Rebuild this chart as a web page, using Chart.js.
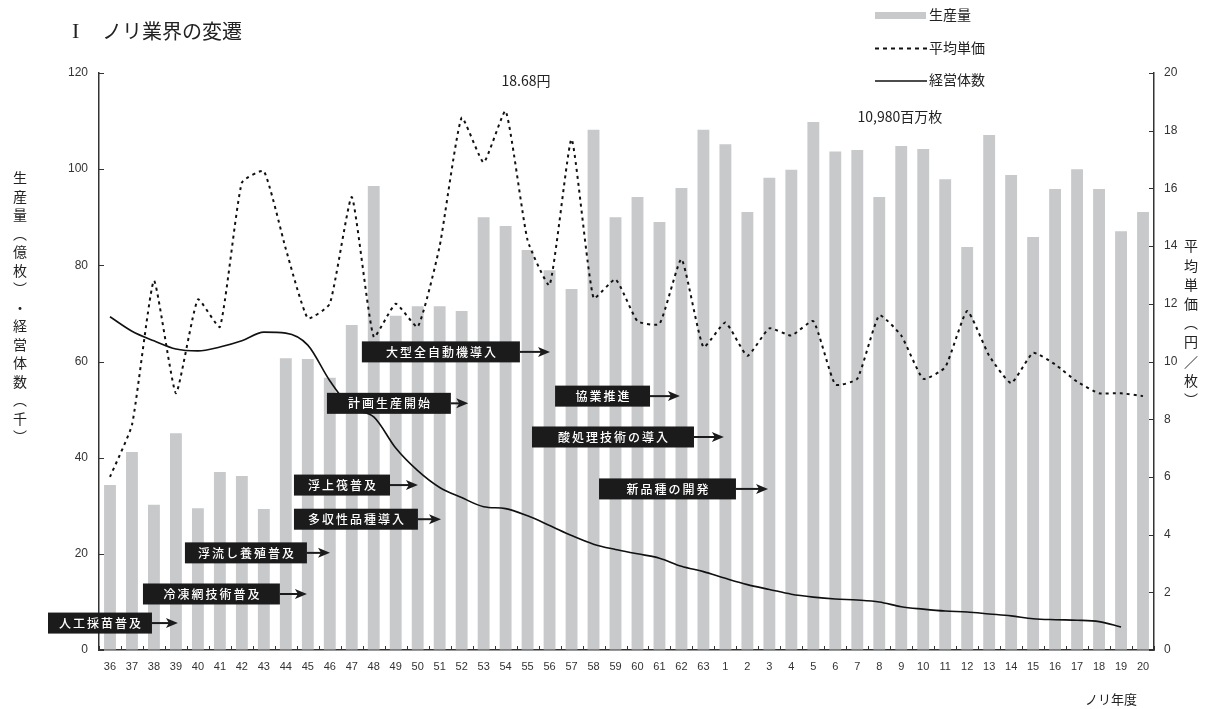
<!DOCTYPE html>
<html lang="ja">
<head>
<meta charset="utf-8">
<title>ノリ業界の変遷</title>
<script src="https://cdn.jsdelivr.net/npm/chart.js@4.4.1/dist/chart.umd.min.js"></script>
<style>
  html, body { margin: 0; padding: 0; background: #fff; }
  #wrap { width: 1208px; height: 709px; position: relative; }
</style>
</head>
<body>
<div id="wrap"><canvas id="c" width="1208" height="709"></canvas></div>
<script>
// ノリ年度（昭和36〜63年、平成1〜20年）
const years = ['36','37','38','39','40','41','42','43','44','45','46','47','48','49','50','51','52','53','54','55','56','57','58','59','60','61','62','63',
               '1','2','3','4','5','6','7','8','9','10','11','12','13','14','15','16','17','18','19','20'];

// 生産量（億枚）
const production = [34.3, 41.2, 30.2, 45.1, 29.5, 37.0, 36.2, 29.3, 60.7, 60.5, 56.6, 67.6, 96.5, 69.5, 71.5, 71.5, 70.5, 90.0, 88.2, 83.2, 79.0, 75.1, 108.2, 90.0, 94.2, 89.0, 96.1, 108.2,
                    105.2, 91.1, 98.2, 99.9, 109.8, 103.7, 104.0, 94.2, 104.8, 104.2, 97.9, 83.8, 107.1, 98.8, 85.9, 95.9, 100.0, 95.9, 87.1, 91.1];

// 平均単価（円／枚）
const avgPrice = [6.0, 7.8, 12.8, 8.9, 12.15, 11.2, 16.2, 16.6, 13.9, 11.5, 12.0, 15.7, 10.85, 12.0, 11.2, 14.0, 18.45, 16.9, 18.68, 14.2, 12.65, 17.7, 12.2, 12.85, 11.4, 11.3, 13.55, 10.5,
                  11.35, 10.2, 11.15, 10.9, 11.4, 9.2, 9.4, 11.6, 10.9, 9.4, 9.8, 11.75, 10.2, 9.25, 10.3, 9.9, 9.3, 8.9, 8.9, 8.8];

// 経営体数（千）
const operators = [69.3, 66.3, 64.3, 62.6, 62.2, 63.0, 64.3, 66.1, 65.9, 63.4, 56.0, 50.3, 48.5, 42.0, 37.3, 33.8, 31.7, 29.8, 29.4, 27.9, 25.9, 23.8, 22.0, 20.9, 20.0, 19.1, 17.4, 16.3,
                   14.9, 13.6, 12.6, 11.6, 11.0, 10.6, 10.4, 10.0, 9.0, 8.5, 8.1, 7.9, 7.5, 7.1, 6.5, 6.3, 6.2, 5.9, 4.8, null];

// 軸目盛
const leftTicks = [0, 20, 40, 60, 80, 100, 120];
const rightTicks = [0, 2, 4, 6, 8, 10, 12, 14, 16, 18, 20];

// 主な出来事（x は年度の位置、y は左軸の値）
const milestones = [
  { text: '人工採苗普及',     from: -2.82, to: 1.91,  tip: 3.09,  y: 5.6 },
  { text: '冷凍網技術普及',   from: 1.50,  to: 7.73,  tip: 8.96,  y: 11.65 },
  { text: '浮流し養殖普及',   from: 3.41,  to: 8.96,  tip: 10.01, y: 20.2 },
  { text: '多収性品種導入',   from: 8.37,  to: 14.01, tip: 15.06, y: 27.2 },
  { text: '浮上筏普及',       from: 8.37,  to: 12.74, tip: 14.01, y: 34.3 },
  { text: '計画生産開始',     from: 9.87,  to: 15.51, tip: 16.3,  y: 51.3 },
  { text: '大型全自動機導入', from: 11.46, to: 18.65, tip: 20.02, y: 62.0 },
  { text: '協業推進',         from: 20.25, to: 24.57, tip: 25.93, y: 52.8 },
  { text: '酸処理技術の導入', from: 19.2,  to: 26.57, tip: 27.93, y: 44.3 },
  { text: '新品種の開発',     from: 22.25, to: 28.48, tip: 29.94, y: 33.5 }
];

// 最高値の注記
const notes = [
  { text: '18.68円',      x: 18.93, y: 118.3 },
  { text: '10,980百万枚', x: 35.94, y: 110.9 }
];

const JP = '"Noto Sans CJK JP", "Noto Sans", sans-serif';
const NUM = '"Liberation Sans", Arial, sans-serif';
const NARROW = '"Liberation Sans Narrow", "Liberation Sans", Arial, sans-serif';
const INK = '#333';

const decor = {
  id: 'decor',
  afterDatasetsDraw(chart) {
    const { ctx, chartArea: a, scales: { x, y, y2 } } = chart;
    ctx.save();

    // 内向きの目盛線
    ctx.strokeStyle = INK;
    ctx.lineWidth = 1;
    ctx.beginPath();
    leftTicks.forEach(v => {
      const py = Math.round(y.getPixelForValue(v)) + 0.5;
      ctx.moveTo(a.left, py); ctx.lineTo(a.left + 5, py);
    });
    rightTicks.forEach(v => {
      const py = Math.round(y2.getPixelForValue(v)) + 0.5;
      ctx.moveTo(a.right, py); ctx.lineTo(a.right - 5, py);
    });
    for (let i = 0; i <= years.length; i++) {
      const px = Math.round(x.getPixelForValue(i - 0.5)) + 0.5;
      ctx.moveTo(px, a.bottom); ctx.lineTo(px, a.bottom - 4);
    }
    ctx.stroke();

    // 出来事の黒地ラベルと矢印
    milestones.forEach(m => {
      const x0 = x.getPixelForValue(m.from);
      const x1 = x.getPixelForValue(m.to);
      const xt = x.getPixelForValue(m.tip);
      const cy = y.getPixelForValue(m.y);
      const h = 21;
      ctx.fillStyle = '#1b1b1b';
      ctx.fillRect(x0, cy - h / 2, x1 - x0, h);

      ctx.fillStyle = '#fff';
      ctx.font = '500 12px ' + JP;
      ctx.textAlign = 'center';
      ctx.textBaseline = 'middle';
      const chars = Array.from(m.text);
      const step = 14;
      const cx = (x0 + x1) / 2;
      chars.forEach((ch, i) => {
        ctx.fillText(ch, cx + (i - (chars.length - 1) / 2) * step, cy + 0.5);
      });

      ctx.strokeStyle = '#1b1b1b';
      ctx.fillStyle = '#1b1b1b';
      ctx.lineWidth = 2;
      ctx.beginPath();
      ctx.moveTo(x1, cy);
      ctx.lineTo(xt - 6, cy);
      ctx.stroke();
      ctx.beginPath();
      ctx.moveTo(xt, cy);
      ctx.lineTo(xt - 12, cy - 5);
      ctx.lineTo(xt - 9, cy);
      ctx.lineTo(xt - 12, cy + 5);
      ctx.closePath();
      ctx.fill();
    });

    // 最高値の注記
    ctx.fillStyle = '#222';
    ctx.font = '14px ' + JP;
    ctx.textAlign = 'center';
    ctx.textBaseline = 'middle';
    notes.forEach(n => {
      ctx.fillText(n.text, x.getPixelForValue(n.x), y.getPixelForValue(n.y));
    });
    ctx.restore();
  },
  afterDraw(chart) {
    const { ctx } = chart;
    ctx.save();
    ctx.fillStyle = '#222';
    ctx.textBaseline = 'middle';

    // 表題（章番号はセリフ体で）
    ctx.textAlign = 'left';
    ctx.font = '22px "Liberation Serif", "DejaVu Serif", serif';
    ctx.fillText('I', 72, 32);
    ctx.font = '20px ' + JP;
    ctx.fillText('ノリ業界の変遷', 102, 31);

    // 凡例
    ctx.font = '14px ' + JP;
    ctx.fillStyle = '#c8c9cb';
    ctx.fillRect(875, 12, 51, 7);
    ctx.strokeStyle = '#111';
    ctx.lineWidth = 2;
    ctx.setLineDash([4, 4]);
    ctx.beginPath(); ctx.moveTo(875, 48.5); ctx.lineTo(927, 48.5); ctx.stroke();
    ctx.setLineDash([]);
    ctx.lineWidth = 1.6;
    ctx.beginPath(); ctx.moveTo(875, 81); ctx.lineTo(927, 81); ctx.stroke();
    ctx.fillStyle = '#222';
    ctx.fillText('生産量', 929, 15);
    ctx.fillText('平均単価', 929, 48);
    ctx.fillText('経営体数', 929, 80);

    // 縦書きの軸タイトル
    ctx.textAlign = 'center';
    ctx.font = '14px ' + JP;
    Array.from('生産量︵億枚︶・経営体数︵千︶').forEach((ch, i) => {
      ctx.fillText(ch, 20, 178 + i * 18.5);
    });
    Array.from('平均単価︵円／枚︶').forEach((ch, i) => {
      ctx.fillText(ch, 1191, 246 + i * 19.2);
    });

    // 横軸タイトル
    ctx.font = '13px ' + JP;
    ctx.fillText('ノリ年度', 1111, 699);
    ctx.restore();
  }
};

new Chart(document.getElementById('c'), {
  data: {
    labels: years,
    datasets: [
      {
        type: 'line', label: '経営体数', data: operators, yAxisID: 'y',
        borderColor: '#111', borderWidth: 1.6, pointRadius: 0,
        cubicInterpolationMode: 'monotone', tension: 0.4, order: 1, spanGaps: false
      },
      {
        type: 'line', label: '平均単価', data: avgPrice, yAxisID: 'y2',
        borderColor: '#111', borderWidth: 2, borderDash: [3, 4], pointRadius: 0,
        tension: 0.15, order: 2
      },
      {
        type: 'bar', label: '生産量', data: production, yAxisID: 'y',
        backgroundColor: '#c8c9cb', borderWidth: 0,
        categoryPercentage: 1, barPercentage: 0.54, order: 3
      }
    ]
  },
  options: {
    responsive: false,
    animation: false,
    devicePixelRatio: 1,
    layout: { padding: { top: 73, left: 0, right: 0, bottom: 0 } },
    plugins: { legend: { display: false }, title: { display: false }, tooltip: { enabled: false } },
    scales: {
      x: {
        type: 'category', offset: true,
        grid: { display: true, drawOnChartArea: false, drawTicks: false },
        border: { display: true, color: INK, width: 1.5 },
        ticks: { autoSkip: false, maxRotation: 0, padding: 10, color: INK, font: { family: NARROW, size: 11 } },
        afterFit(s) { s.height = 59; }
      },
      y: {
        type: 'linear', position: 'left', min: 0, max: 120,
        afterBuildTicks(s) { s.ticks = leftTicks.map(v => ({ value: v })); },
        grid: { display: true, drawOnChartArea: false, drawTicks: false },
        border: { display: true, color: INK, width: 1.5 },
        ticks: { padding: 11, color: INK, font: { family: NUM, size: 12 } },
        afterFit(s) { s.width = 99; }
      },
      y2: {
        type: 'linear', position: 'right', min: 0, max: 20,
        afterBuildTicks(s) { s.ticks = rightTicks.map(v => ({ value: v })); },
        grid: { display: true, drawOnChartArea: false, drawTicks: false },
        border: { display: true, color: INK, width: 1.5 },
        ticks: { padding: 10, color: INK, font: { family: NUM, size: 12 } },
        afterFit(s) { s.width = 54; }
      }
    }
  },
  plugins: [decor]
});
</script>
</body>
</html>
